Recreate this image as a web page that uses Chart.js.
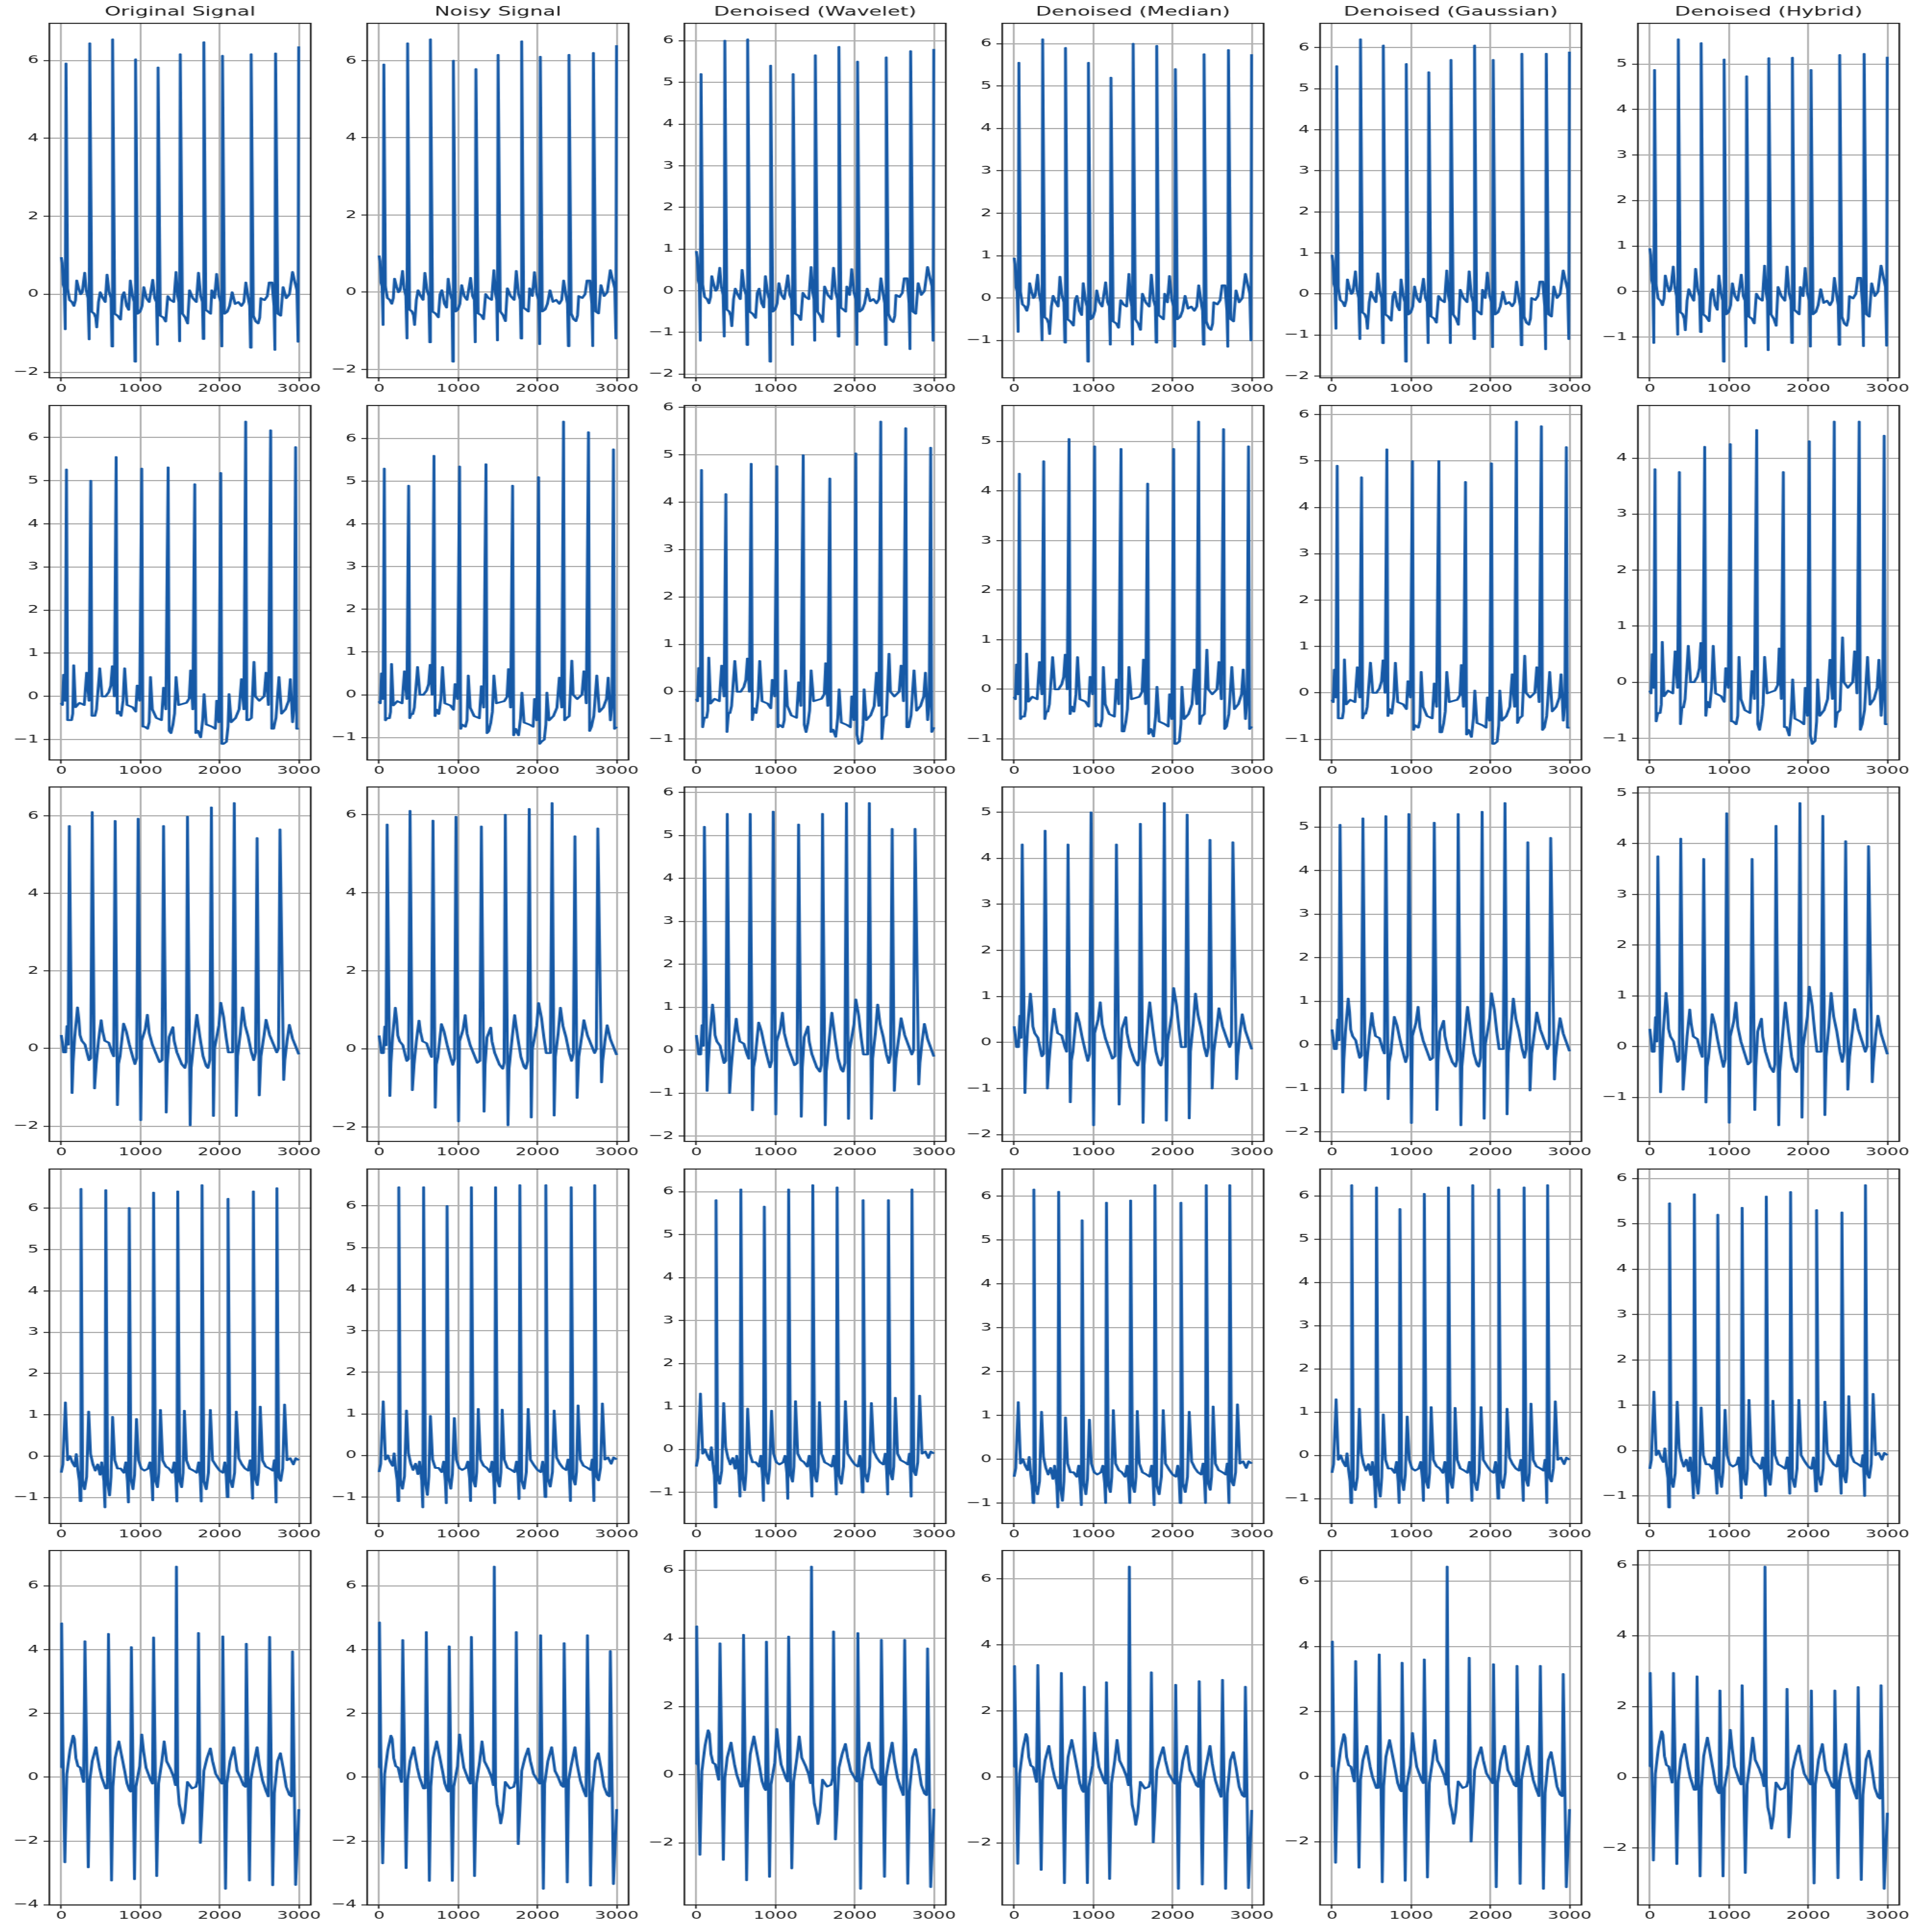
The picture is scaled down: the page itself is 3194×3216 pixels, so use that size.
<!DOCTYPE html>
<html>
<head>
<meta charset="utf-8">
<script src="https://cdn.jsdelivr.net/npm/chart.js@4.4.1/dist/chart.umd.min.js"></script>
<style>
    html, body { margin: 0; padding: 0; background: #fff; }
    #board { position: relative; width: 3194px; height: 3216px; overflow: hidden; background: #fff; }
    #board canvas { position: absolute; transform-origin: 0 0; }
</style>
</head>
<body>
<div id="board"></div>
<script>
// column titles (first row only)
const titles = ['Original Signal', 'Noisy Signal', 'Denoised (Wavelet)', 'Denoised (Median)', 'Denoised (Gaussian)', 'Denoised (Hybrid)'];
const nSamples = 3000;
const xTickValues = [0, 1000, 2000, 3000];

// ---- row 1 ----
const r1Beats = [60, 360, 648, 938, 1222, 1502, 1800, 2035, 2397, 2705, 2997];
const r1TroughX = [50, 352, 640, 930, 1214, 1494, 1792, 2027, 2389, 2697, 2989];
const r1Base = [[0, 0.95], [12, 0.8], [24, 0.25], [38, 0.15],
    [80, 0.15], [105, -0.15], [135, -0.2], [160, -0.3], [180, -0.15], [195, 0.35], [220, 0.15], [245, 0.0], [265, 0.05], [280, 0.3], [296, 0.55], [315, 0.1], [338, -0.1],
    [385, -0.45], [415, -0.5], [435, -0.6], [448, -0.85], [470, -0.2], [492, 0.05], [525, -0.1], [555, -0.2], [578, 0.5], [605, 0.05], [628, -0.1],
    [675, -0.5], [710, -0.55], [748, -0.65], [770, -0.05], [793, 0.05], [825, -0.3], [852, -0.4], [872, 0.35], [900, -0.05], [920, -0.2],
    [965, -0.5], [995, -0.45], [1020, -0.3], [1042, 0.18], [1075, -0.1], [1110, -0.2], [1155, 0.37], [1180, -0.1], [1202, -0.2],
    [1250, -0.55], [1290, -0.6], [1318, -0.7], [1345, -0.05], [1380, -0.15], [1420, -0.2], [1449, 0.57], [1470, -0.05], [1485, -0.2],
    [1530, -0.5], [1565, -0.6], [1595, -0.75], [1619, 0.1], [1660, -0.1], [1705, -0.2], [1732, 0.55], [1760, -0.05], [1782, -0.2],
    [1825, -0.4], [1855, -0.45], [1885, -0.5], [1900, 0.1], [1935, -0.1], [1961, 0.52], [1990, -0.05], [2015, -0.2],
    [2060, -0.5], [2095, -0.45], [2125, -0.3], [2157, 0.05], [2195, -0.25], [2235, -0.2], [2275, -0.3], [2305, -0.2], [2330, 0.3], [2360, -0.1], [2378, -0.3],
    [2425, -0.55], [2455, -0.7], [2485, -0.75], [2505, -0.6], [2520, -0.1], [2565, -0.15], [2600, -0.05], [2625, 0.3], [2660, 0.3], [2685, -0.3],
    [2735, -0.5], [2770, -0.55], [2800, 0.18], [2840, -0.1], [2880, 0.0], [2919, 0.57], [2950, 0.3], [2975, 0.1]];
const r1Peaks = [
    [5.92, 6.44, 6.54, 6.03, 5.82, 6.16, 6.47, 6.12, 6.16, 6.18, 6.36],
    [5.9, 6.45, 6.55, 6.0, 5.78, 6.15, 6.5, 6.1, 6.15, 6.2, 6.4],
    [5.2, 6.0, 6.03, 5.4, 5.2, 5.65, 5.85, 5.5, 5.6, 5.75, 5.8],
    [5.55, 6.1, 5.9, 5.55, 5.2, 6.0, 5.95, 5.4, 5.75, 5.85, 5.75],
    [5.55, 6.2, 6.05, 5.6, 5.4, 5.7, 6.05, 5.7, 5.85, 5.85, 5.9],
    [4.87, 5.54, 5.46, 5.10, 4.73, 5.13, 5.14, 4.87, 5.20, 5.22, 5.16]];
const r1Troughs = [
    [-0.9, -1.16, -1.34, -1.73, -1.30, -1.21, -1.15, -1.34, -1.37, -1.43, -1.22],
    [-0.85, -1.2, -1.3, -1.8, -1.3, -1.25, -1.2, -1.35, -1.4, -1.4, -1.2],
    [-1.2, -1.1, -1.3, -1.7, -1.3, -1.2, -1.1, -1.3, -1.3, -1.4, -1.2],
    [-0.8, -1.0, -1.05, -1.5, -1.1, -1.1, -1.05, -1.15, -1.1, -1.15, -1.0],
    [-0.85, -1.1, -1.2, -1.65, -1.2, -1.2, -1.1, -1.3, -1.25, -1.35, -1.1],
    [-1.13, -0.95, -0.89, -1.54, -1.21, -1.29, -1.13, -1.21, -1.17, -1.20, -1.19]];

// ---- row 2 ----
const r2Beats = [66, 373, 693, 1016, 1349, 1685, 2013, 2328, 2643, 2958];
const r2TroughX = [80, 387, 707, 1030, 1363, 1699, 2027, 2342, 2657, 2972];
const r2Base = [[0, -0.15], [15, -0.2], [30, 0.5], [50, -0.1],
    [100, -0.55], [130, -0.55], [145, -0.4], [157, 0.72], [180, -0.25], [230, -0.15], [290, -0.2], [320, 0.55], [350, -0.1],
    [405, -0.45], [425, -0.45], [445, -0.3], [486, 0.65], [515, 0.0], [560, 0.0], [600, 0.1], [625, 0.25], [645, 0.7], [670, 0.0],
    [725, -0.35], [755, -0.45], [780, -0.1], [800, 0.65], [830, -0.2], [900, -0.25], [940, -0.35], [958, 0.25], [990, -0.1],
    [1050, -0.7], [1090, -0.75], [1110, -0.6], [1126, 0.45], [1150, -0.3], [1200, -0.5], [1265, -0.55], [1291, 0.2], [1320, -0.3],
    [1385, -0.85], [1410, -0.65], [1430, -0.4], [1449, 0.45], [1480, -0.2], [1580, -0.15], [1615, -0.05], [1633, 0.6], [1660, -0.3],
    [1725, -0.8], [1760, -0.95], [1785, -0.55], [1803, 0.05], [1830, -0.65], [1900, -0.7], [1945, -0.75], [1962, -0.1], [1990, -0.6],
    [2050, -1.1], [2085, -1.05], [2105, -0.7], [2118, 0.05], [2145, -0.6], [2200, -0.5], [2245, -0.3], [2275, 0.4], [2305, -0.3],
    [2365, -0.55], [2400, -0.5], [2433, 0.8], [2450, 0.0], [2500, -0.1], [2560, 0.0], [2585, 0.55], [2615, -0.2],
    [2680, -0.75], [2710, -0.5], [2748, 0.45], [2780, -0.4], [2830, -0.3], [2870, -0.1], [2892, 0.4], [2920, -0.6], [2940, -0.2],
    [2999, -0.75]];
const r2Peaks = [
    [5.26, 5.0, 5.55, 5.28, 5.31, 4.92, 5.18, 6.37, 6.17, 5.78],
    [5.3, 4.9, 5.6, 5.35, 5.4, 4.9, 5.1, 6.4, 6.15, 5.75],
    [4.68, 4.17, 4.81, 4.76, 4.99, 4.50, 5.03, 5.70, 5.56, 5.15],
    [4.35, 4.6, 5.05, 4.9, 4.85, 4.15, 4.85, 5.4, 5.25, 4.9],
    [4.9, 4.65, 5.25, 5.0, 5.0, 4.55, 4.95, 5.85, 5.75, 5.3],
    [3.8, 3.75, 4.2, 4.25, 4.5, 3.75, 4.3, 4.65, 4.65, 4.4]];
const r2Troughs = [
    [-0.55, -0.45, -0.4, -0.7, -0.8, -0.85, -1.1, -0.55, -0.75, -0.75],
    [-0.6, -0.55, -0.5, -0.8, -0.9, -0.95, -1.15, -0.6, -0.85, -0.8],
    [-0.75, -0.85, -0.6, -0.75, -0.7, -0.85, -0.9, -1.0, -0.75, -0.85],
    [-0.6, -0.6, -0.5, -0.75, -0.85, -0.9, -1.1, -0.7, -0.8, -0.8],
    [-0.55, -0.55, -0.5, -0.8, -0.85, -0.9, -1.1, -0.65, -0.8, -0.75],
    [-0.7, -0.75, -0.6, -0.7, -0.75, -0.8, -0.95, -0.8, -0.85, -0.75]];

// ---- row 3 ----
const r3Beats = [102, 391, 680, 971, 1291, 1593, 1895, 2184, 2472, 2761];
const r3TroughX = [136, 420, 709, 1003, 1325, 1627, 1921, 2210, 2499, 2808];
const r3Base = [[0, 0.35], [15, 0.15], [30, -0.1], [55, -0.1], [72, 0.58], [88, 0.1],
    [150, -0.35], [170, 0.3], [205, 1.06], [222, 0.75], [236, 0.35], [260, 0.2], [300, 0.1], [330, -0.15], [350, -0.3], [372, -0.25],
    [441, -0.4], [470, 0.2], [504, 0.73], [522, 0.45], [550, 0.2], [600, 0.15], [640, -0.1], [662, -0.2],
    [722, -0.4], [742, -0.2], [787, 0.64], [820, 0.45], [860, 0.1], [900, -0.2], [930, -0.4], [952, -0.25],
    [1015, 0.2], [1060, 0.5], [1087, 0.87], [1110, 0.4], [1150, 0.1], [1200, -0.15], [1240, -0.35], [1272, -0.3],
    [1338, -0.4], [1362, 0.3], [1409, 0.55], [1425, 0.2], [1460, -0.1], [1520, -0.4], [1560, -0.5], [1578, -0.35],
    [1640, -0.5], [1655, -0.2], [1680, 0.3], [1711, 0.87], [1750, 0.3], [1790, -0.2], [1830, -0.45], [1852, -0.5], [1875, -0.3],
    [1935, 0.0], [1990, 0.6], [2013, 1.18], [2050, 0.8], [2080, 0.3], [2110, -0.1], [2162, -0.1],
    [2225, -0.2], [2260, 0.4], [2289, 1.06], [2320, 0.6], [2360, 0.3], [2400, -0.1], [2430, -0.3], [2452, -0.1],
    [2520, -0.2], [2560, 0.35], [2585, 0.74], [2630, 0.35], [2680, 0.1], [2720, -0.1], [2742, 0.0],
    [2822, -0.3], [2850, 0.2], [2879, 0.61], [2920, 0.25], [2950, 0.1], [2999, -0.15]];
const r3Peaks = [
    [5.74, 6.10, 5.87, 5.93, 5.74, 5.98, 6.22, 6.33, 5.43, 5.65],
    [5.75, 6.1, 5.85, 5.95, 5.7, 6.0, 6.15, 6.3, 5.45, 5.65],
    [5.2, 5.5, 5.5, 5.55, 5.25, 5.5, 5.75, 5.75, 5.15, 5.15],
    [4.3, 4.6, 4.3, 5.0, 4.3, 4.75, 5.2, 4.95, 4.4, 4.35],
    [5.05, 5.2, 5.25, 5.3, 5.1, 5.3, 5.35, 5.55, 4.65, 4.75],
    [3.75, 4.1, 3.7, 4.6, 3.7, 4.35, 4.8, 4.55, 4.05, 3.95]];
const r3Troughs = [
    [-1.15, -1.03, -1.46, -1.85, -1.65, -1.98, -1.74, -1.74, -1.21, -0.81],
    [-1.2, -1.05, -1.5, -1.85, -1.6, -1.95, -1.75, -1.7, -1.25, -0.85],
    [-0.95, -1.0, -1.4, -1.5, -1.55, -1.75, -1.6, -1.6, -0.95, -0.8],
    [-1.1, -1.0, -1.3, -1.8, -1.35, -1.75, -1.7, -1.65, -1.0, -0.8],
    [-1.1, -1.05, -1.25, -1.8, -1.5, -1.85, -1.7, -1.6, -1.05, -0.8],
    [-0.9, -0.85, -1.1, -1.5, -1.25, -1.55, -1.4, -1.35, -0.85, -0.7]];

// ---- row 4 ----
const r4Beats = [249, 562, 858, 1165, 1470, 1777, 2105, 2425, 2722];
const r4TroughX = [239, 552, 848, 1155, 1460, 1767, 2095, 2415, 2712];
const r4Base = [[0, -0.4], [20, -0.2], [52, 1.3], [80, -0.1], [110, 0.0], [140, -0.15], [170, -0.25], [190, 0.05], [210, -0.35], [228, -0.6],
    [270, -0.6], [295, -0.8], [320, -0.5], [346, 1.08], [370, 0.05], [400, -0.2], [430, -0.35], [460, -0.2], [490, -0.45], [510, -0.15], [538, -0.6],
    [585, -0.65], [610, -0.95], [628, -0.5], [648, 0.95], [675, -0.1], [710, -0.3], [750, -0.3], [790, -0.4], [815, -0.15], [835, -0.6],
    [880, -0.55], [905, -0.8], [925, -0.45], [950, 0.9], [975, -0.1], [1010, -0.3], [1050, -0.35], [1095, -0.3], [1120, -0.15], [1142, -0.55],
    [1190, -0.6], [1215, -0.75], [1232, -0.4], [1252, 1.12], [1280, -0.1], [1320, -0.25], [1360, -0.3], [1400, -0.4], [1425, -0.15], [1447, -0.55],
    [1495, -0.6], [1520, -0.75], [1538, -0.4], [1554, 1.1], [1580, -0.1], [1620, -0.3], [1670, -0.35], [1710, -0.4], [1735, -0.15], [1755, -0.5],
    [1800, -0.6], [1830, -0.8], [1858, -0.4], [1882, 1.12], [1910, -0.1], [1960, -0.25], [2000, -0.35], [2040, -0.4], [2065, -0.15], [2083, -0.5],
    [2130, -0.55], [2160, -0.75], [2188, -0.4], [2210, 1.08], [2240, -0.05], [2280, -0.2], [2320, -0.3], [2360, -0.35], [2385, -0.1], [2403, -0.5],
    [2450, -0.55], [2475, -0.7], [2492, -0.4], [2512, 1.2], [2540, -0.1], [2580, -0.25], [2630, -0.3], [2670, -0.35], [2690, -0.1], [2702, -0.5],
    [2745, -0.5], [2770, -0.6], [2795, -0.3], [2819, 1.25], [2850, -0.1], [2890, -0.05], [2930, -0.2], [2960, -0.05], [2999, -0.1]];
const r4Peaks = [
    [6.47, 6.44, 6.01, 6.38, 6.41, 6.56, 6.23, 6.41, 6.49],
    [6.45, 6.45, 6.0, 6.45, 6.45, 6.5, 6.5, 6.45, 6.5],
    [5.8, 6.05, 5.65, 6.05, 6.15, 6.1, 5.8, 5.8, 6.05],
    [6.15, 6.1, 5.45, 5.85, 5.9, 6.25, 5.85, 6.25, 6.25],
    [6.25, 6.2, 5.7, 6.05, 6.2, 6.25, 6.15, 6.2, 6.25],
    [5.45, 5.65, 5.2, 5.35, 5.6, 5.7, 5.3, 5.25, 5.85]];
const r4Troughs = [
    [-1.09, -1.24, -1.12, -1.07, -1.10, -1.10, -0.99, -1.03, -1.12],
    [-1.1, -1.25, -1.15, -1.1, -1.15, -1.05, -1.0, -1.1, -1.1],
    [-1.35, -1.1, -1.2, -1.15, -1.1, -1.05, -1.0, -1.05, -1.1],
    [-1.0, -1.1, -1.05, -1.0, -1.0, -1.05, -1.0, -1.0, -1.0],
    [-1.1, -1.2, -1.1, -1.05, -1.1, -1.05, -1.0, -1.05, -1.1],
    [-1.25, -1.05, -0.95, -1.05, -1.0, -0.95, -0.9, -0.95, -1.0]];

// ---- row 5 ----
const r5Beats = [5, 299, 596, 885, 1165, 1454, 1732, 2039, 2336, 2630, 2919];
const r5TroughX = [45, 341, 635, 924, 1205, 1470, 1756, 2073, 2375, 2669, 2958];
const r5Base = [[0, 0.3], [20, 1.1],
    [70, 0.1], [110, 0.85], [150, 1.3], [165, 1.2], [185, 0.6], [210, 0.35], [240, 0.3], [262, 0.05], [282, -0.15],
    [360, -0.1], [390, 0.5], [438, 0.94], [460, 0.6], [482, 0.3], [510, 0.0], [560, -0.35], [582, -0.35],
    [652, -0.3], [680, 0.6], [727, 1.12], [760, 0.7], [800, 0.2], [830, -0.2], [860, -0.4], [875, -0.45],
    [942, -0.3], [990, 0.35], [1016, 1.34], [1040, 0.8], [1070, 0.3], [1100, 0.1], [1130, -0.1], [1152, -0.2],
    [1228, -0.2], [1270, 0.5], [1299, 1.12], [1330, 0.5], [1380, 0.25], [1420, 0.0], [1442, -0.25],
    [1490, -0.85], [1515, -1.1], [1535, -1.45], [1560, -1.1], [1593, -0.15], [1650, -0.35], [1700, -0.3], [1720, -0.1],
    [1777, -1.0], [1800, 0.2], [1840, 0.6], [1882, 0.9], [1910, 0.5], [1950, 0.1], [2000, -0.1], [2028, -0.2],
    [2090, -0.2], [2130, 0.5], [2178, 0.94], [2220, 0.2], [2260, 0.0], [2300, -0.25], [2325, -0.3],
    [2392, -0.1], [2420, 0.3], [2472, 0.94], [2500, 0.4], [2540, -0.1], [2580, -0.4], [2612, -0.6],
    [2690, -0.5], [2730, 0.5], [2766, 0.75], [2800, 0.3], [2840, -0.3], [2880, -0.55], [2905, -0.6],
    [2999, -1.0]];
const r5Peaks = [
    [4.82, 4.26, 4.49, 4.08, 4.38, 6.6, 4.52, 4.41, 4.18, 4.40, 3.94],
    [4.85, 4.3, 4.55, 4.1, 4.4, 6.6, 4.55, 4.45, 4.2, 4.45, 3.95],
    [4.35, 3.85, 4.1, 3.9, 4.05, 6.1, 4.2, 4.15, 3.95, 3.95, 3.7],
    [3.36, 3.39, 3.15, 2.73, 2.87, 6.37, 3.17, 2.79, 2.90, 2.94, 2.73],
    [4.15, 3.55, 3.75, 3.5, 3.6, 6.45, 3.65, 3.45, 3.4, 3.4, 3.15],
    [2.95, 2.95, 2.85, 2.45, 2.6, 5.95, 2.5, 2.45, 2.45, 2.55, 2.6]];
const r5Troughs = [
    [-2.67, -2.83, -3.24, -3.2, -3.1, -0.25, -2.06, -3.5, -3.24, -3.39, -3.38],
    [-2.7, -2.85, -3.25, -3.25, -3.1, -0.3, -2.1, -3.5, -3.3, -3.4, -3.35],
    [-2.35, -2.5, -3.1, -3.0, -2.75, -0.3, -1.9, -3.35, -3.0, -3.2, -3.3],
    [-2.63, -2.82, -3.22, -3.22, -3.09, -0.2, -1.98, -3.39, -3.26, -3.39, -3.37],
    [-2.65, -2.8, -3.25, -3.2, -3.1, -0.3, -2.0, -3.4, -3.3, -3.45, -3.4],
    [-2.35, -2.45, -2.8, -2.8, -2.7, -0.2, -1.7, -3.0, -2.85, -2.9, -3.15]];

const rows = [
    { beats: r1Beats, troughX: r1TroughX, base: r1Base, peaks: r1Peaks, troughs: r1Troughs },
    { beats: r2Beats, troughX: r2TroughX, base: r2Base, peaks: r2Peaks, troughs: r2Troughs },
    { beats: r3Beats, troughX: r3TroughX, base: r3Base, peaks: r3Peaks, troughs: r3Troughs },
    { beats: r4Beats, troughX: r4TroughX, base: r4Base, peaks: r4Peaks, troughs: r4Troughs },
    { beats: r5Beats, troughX: r5TroughX, base: r5Base, peaks: r5Peaks, troughs: r5Troughs }
];

// layout (page pixels); the source picture is stretched sideways, so each canvas is too
const STRETCH = 1.6;
const PANEL_LEFT0 = 82, PANEL_DX = 528.8, PANEL_W = 435;
const PANEL_TOP0 = 39, PANEL_DY = 635.5, PANEL_H = 590;
const Y_AXIS_W = 42, X_AXIS_H = 40, PAD_TOP = 14, PAD_RIGHT_MIN = 14;
const TITLE_SIZE = 21.5, TITLE_PAD = { top: 4, bottom: 5 };
const FONT = 'DejaVu Sans';
const LINE_COLOR = '#1659a6';
const TEXT_COLOR = '#1a1a1a';
const GRID_COLOR = '#b0b0b0';

function panelPoints(row, col) {
    const pts = row.base.map(([x, y]) => ({ x, y }));
    row.beats.forEach((x, i) => pts.push({ x, y: row.peaks[col][i] }));
    row.troughX.forEach((x, i) => pts.push({ x, y: row.troughs[col][i] }));
    return pts.sort((a, b) => a.x - b.x);
}

// matplotlib-like auto limits (5% margins) and MaxNLocator ticks
function niceStep(lo, hi) {
    const raw = (hi - lo) / 9;
    const scale = Math.pow(10, Math.floor(Math.log10(raw)));
    for (const s of [1, 2, 2.5, 5, 10]) {
        if (s * scale >= raw - 1e-12) return s * scale;
    }
    return 10 * scale;
}

function yTicks(lo, hi) {
    const step = niceStep(lo, hi);
    const out = [];
    for (let v = Math.ceil(lo / step - 1e-9) * step; v <= hi + 1e-9; v += step) {
        out.push({ value: Math.round(v * 1000) / 1000 });
    }
    return out;
}

function fmtTick(v) {
    const r = Math.round(v * 100) / 100;
    return r < 0 ? '\u2212' + Math.abs(r) : String(r);
}

const framePlugin = {
    id: 'frame',
    afterDatasetsDraw(chart) {
        const { ctx, chartArea: a } = chart;
        ctx.save();
        ctx.strokeStyle = TEXT_COLOR;
        ctx.lineWidth = 1.7;
        ctx.strokeRect(a.left, a.top, a.right - a.left, a.bottom - a.top);
        ctx.restore();
    }
};

const board = document.getElementById('board');
const xSpan = nSamples - 1;
const xMin = -0.05 * xSpan, xMax = xSpan + 0.05 * xSpan;

rows.forEach((row, r) => {
    for (let c = 0; c < 6; c++) {
        const pts = panelPoints(row, c);
        const ys = pts.map(p => p.y);
        const lo = Math.min(...ys), hi = Math.max(...ys);
        const m = (hi - lo) * 0.05;
        const yMin = lo - m, yMax = hi + m;
        const yTickList = yTicks(yMin, yMax);

        const hasTitle = r === 0;
        const titleH = hasTitle ? TITLE_SIZE * 1.2 + TITLE_PAD.top + TITLE_PAD.bottom : 0;
        const padTop = hasTitle ? 1 : PAD_TOP;
        const innerW = PANEL_W / STRETCH;
        const W = Math.ceil(Y_AXIS_W + innerW + PAD_RIGHT_MIN);
        const needH = padTop + titleH + PANEL_H + X_AXIS_H;
        const H = Math.ceil(needH);

        const canvas = document.createElement('canvas');
        canvas.width = W;
        canvas.height = H;
        const left = PANEL_LEFT0 + PANEL_DX * c - Y_AXIS_W * STRETCH;
        const top = PANEL_TOP0 + PANEL_DY * r - padTop - titleH;
        canvas.style.left = left + 'px';
        canvas.style.top = top + 'px';
        canvas.style.transform = `scaleX(${STRETCH})`;
        board.appendChild(canvas);

        const tickFont = { family: FONT, size: 18 };
        const gridOpts = { color: GRID_COLOR, lineWidth: 1.9, tickLength: 6, tickColor: TEXT_COLOR, tickWidth: 1.5 };
        new Chart(canvas, {
            type: 'line',
            data: {
                datasets: [{
                    data: pts,
                    borderColor: LINE_COLOR,
                    borderWidth: 3,
                    borderJoinStyle: 'round',
                    pointRadius: 0,
                    tension: 0,
                    fill: false
                }]
            },
            options: {
                responsive: false,
                animation: false,
                parsing: false,
                events: [],
                layout: {
                    padding: { left: 0, top: padTop, right: W - Y_AXIS_W - innerW, bottom: H - needH }
                },
                plugins: {
                    legend: { display: false },
                    tooltip: { enabled: false },
                    title: {
                        display: hasTitle,
                        text: titles[c],
                        fullSize: false,
                        color: TEXT_COLOR,
                        font: { family: FONT, size: TITLE_SIZE, weight: 'normal' },
                        padding: TITLE_PAD
                    }
                },
                scales: {
                    x: {
                        type: 'linear',
                        min: xMin,
                        max: xMax,
                        afterBuildTicks(scale) {
                            scale.ticks = xTickValues.map(v => ({ value: v }));
                        },
                        afterFit(scale) {
                            scale.height = X_AXIS_H;
                            scale.paddingLeft = scale.paddingRight = 0;
                        },
                        border: { display: false },
                        grid: gridOpts,
                        ticks: {
                            autoSkip: false,
                            maxRotation: 0,
                            padding: 2,
                            color: TEXT_COLOR,
                            font: tickFont,
                            callback: v => String(v)
                        }
                    },
                    y: {
                        type: 'linear',
                        min: yMin,
                        max: yMax,
                        afterBuildTicks(scale) {
                            scale.ticks = yTickList.map(t => ({ value: t.value }));
                        },
                        afterFit(scale) {
                            scale.width = Y_AXIS_W;
                            scale.paddingTop = scale.paddingBottom = 0;
                        },
                        border: { display: false },
                        grid: gridOpts,
                        ticks: {
                            autoSkip: false,
                            padding: 5,
                            color: TEXT_COLOR,
                            font: tickFont,
                            callback: v => fmtTick(v)
                        }
                    }
                }
            },
            plugins: [framePlugin]
        });
    }
});
</script>
</body>
</html>
